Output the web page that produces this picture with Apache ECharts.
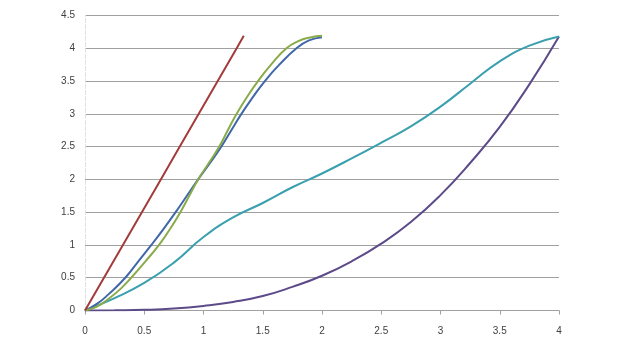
<!DOCTYPE html>
<html>
<head>
<meta charset="utf-8">
<script src="https://cdn.jsdelivr.net/npm/echarts@6/dist/echarts.min.js"></script>
<style>
html,body{margin:0;padding:0;background:#fff;}
#c{width:636px;height:356px;}
</style>
</head>
<body>
<div id="c"></div>
<script>
var xTicks = [0, 0.5, 1, 1.5, 2, 2.5, 3, 3.5, 4];
var yTicks = [0, 0.5, 1, 1.5, 2, 2.5, 3, 3.5, 4, 4.5];

var redSeries = [[0,0],[0.32,1],[0.64,2],[0.96,3],[1.28,4],[1.34,4.19]];
var blueSeries = [[0,0],[0.1,0.1],[0.2,0.25],[0.34,0.5],[0.45,0.75],[0.56,1],[0.665,1.25],[0.765,1.5],[0.86,1.75],[0.955,2],[1.055,2.25],[1.15,2.5],[1.235,2.75],[1.32,3],[1.415,3.25],[1.518,3.5],[1.64,3.75],[1.785,4],[1.89,4.12],[2.0,4.17]];
var greenSeries = [[0,0],[0.1,0.06],[0.2,0.18],[0.3,0.33],[0.39,0.5],[0.51,0.75],[0.625,1],[0.72,1.25],[0.805,1.5],[0.88,1.75],[0.955,2],[1.045,2.25],[1.133,2.5],[1.205,2.75],[1.28,3],[1.365,3.25],[1.46,3.5],[1.57,3.75],[1.7,4],[1.8,4.11],[1.9,4.165],[2.0,4.19]];
var tealSeries = [[0,0],[0.25,0.19],[0.5,0.42],[0.75,0.73],[1.0,1.12],[1.25,1.42],[1.5,1.64],[1.75,1.88],[2.0,2.09],[2.25,2.32],[2.5,2.56],[2.75,2.81],[3.0,3.11],[3.25,3.46],[3.5,3.8],[3.75,4.04],[4.0,4.18]];
var purpleSeries = [[0,0],[0.25,0.003],[0.5,0.01],[0.75,0.03],[1.0,0.07],[1.25,0.13],[1.5,0.22],[1.75,0.36],[2.0,0.53],[2.25,0.75],[2.5,1.02],[2.75,1.35],[3.0,1.76],[3.25,2.25],[3.5,2.8],[3.75,3.45],[4.0,4.18]];

var chart = echarts.init(document.getElementById('c'), null, {renderer:'canvas'});
function line(data, color){
  return {type:'line', data:data, showSymbol:false, smooth:0.5, animation:false,
    lineStyle:{color:color, width:2}, itemStyle:{color:color}};
}
chart.setOption({
  animation:false,
  backgroundColor:'#ffffff',
  grid:{left:85, right:77, top:15.5, bottom:45.5, containLabel:false},
  xAxis:{type:'value', min:xTicks[0], max:xTicks[xTicks.length-1], interval:0.5,
    axisLine:{show:true, lineStyle:{color:'#a0a0a0', width:1}},
    axisTick:{show:true, length:4, lineStyle:{color:'#a0a0a0'}},
    splitLine:{show:false},
    axisLabel:{color:'#404040', fontSize:10, fontFamily:'Liberation Sans', margin:16}},
  yAxis:{type:'value', min:yTicks[0], max:yTicks[yTicks.length-1], interval:0.5,
    axisLine:{show:true, lineStyle:{color:'#e0e0e0', width:1, type:'dashed'}},
    axisTick:{show:false},
    splitLine:{show:true, lineStyle:{color:'#a0a0a0', width:1}},
    axisLabel:{color:'#404040', fontSize:10, fontFamily:'Liberation Sans', margin:10}},
  series:[
    line(purpleSeries,'#5c4b88'),
    line(tealSeries,'#3a9fae'),
    line(blueSeries,'#4068a8'),
    line(greenSeries,'#8aab4a'),
    line(redSeries,'#a33b3b')
  ]
});
</script>
</body>
</html>
